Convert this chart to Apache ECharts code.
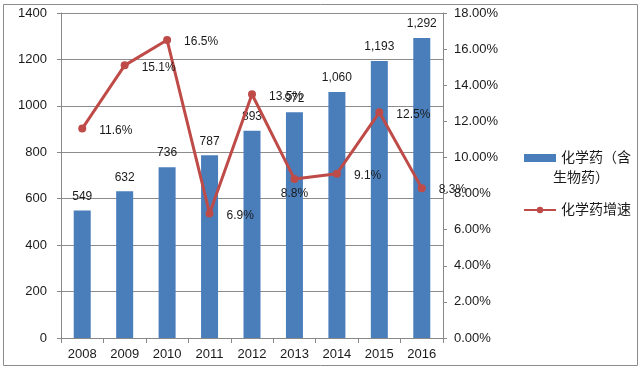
<!DOCTYPE html>
<html><head><meta charset="utf-8">
<script src="https://cdn.jsdelivr.net/npm/echarts@6/dist/echarts.min.js"></script>
<style>html,body{margin:0;padding:0;background:#fff}#c{width:642px;height:371px}</style>
</head><body><div id="c"></div>
<script>
const categories = ['2008','2009','2010','2011','2012','2013','2014','2015','2016'];
const salesValues = [549, 632, 736, 787, 893, 972, 1060, 1193, 1292];
const growthValues = [11.6, 15.1, 16.5, 6.9, 13.5, 8.8, 9.1, 12.5, 8.3];
const growthLabelPos = ['right','right','right','right','right','bottom','right','right','right'];
const barName = '化学药（含生物药）';
const barNameLine1 = '化学药（含';
const barNameLine2 = '生物药）';
const lineName = '化学药增速';

const font = 'Arial, "Liberation Sans", "Noto Sans CJK SC", sans-serif';
const txt = '#1a1a1a';
const chart = echarts.init(document.getElementById('c'));
chart.setOption({
  animation: false,
  textStyle: { fontFamily: font },
  graphic: [
    { type: 'rect', shape: { x: 3.5, y: 4.5, width: 634, height: 361 }, style: { fill: 'none', stroke: '#8c8c8c', lineWidth: 1 } },
    { type: 'text', left: 553, top: 171, style: { text: barNameLine2, fontSize: 14, fill: txt, fontFamily: font } }
  ],
  grid: { left: 61, right: 199, top: 13, bottom: 33 },
  legend: {
    orient: 'vertical', left: 518, top: 145, itemGap: 36,
    itemWidth: 32, itemHeight: 8,
    textStyle: { fontSize: 14, color: txt, fontFamily: font, lineHeight: 16 },
    formatter: n => n === barName ? barNameLine1 : n,
    data: [{ name: barName, icon: 'rect' }, { name: lineName }]
  },
  xAxis: {
    type: 'category', data: categories,
    axisLine: { lineStyle: { color: '#888' } },
    axisTick: { show: true, lineStyle: { color: '#888' }, length: 5 },
    axisLabel: { color: txt, fontSize: 13, margin: 10 }
  },
  yAxis: [{
    type: 'value', min: 0, max: 1400, interval: 200,
    axisLine: { show: true, lineStyle: { color: '#888' } },
    axisTick: { show: true, lineStyle: { color: '#888' }, length: 4 },
    splitLine: { lineStyle: { color: '#8c8c8c' } },
    axisLabel: { color: txt, fontSize: 13, margin: 14, formatter: v => String(v) }
  }, {
    type: 'value', min: 0, max: 18, interval: 2,
    axisLine: { show: true, lineStyle: { color: '#888' } },
    axisTick: { show: true, lineStyle: { color: '#888' }, length: 4 },
    splitLine: { show: false },
    axisLabel: { color: txt, fontSize: 13, margin: 11, formatter: v => v.toFixed(2) + '%' }
  }],
  series: [{
    name: barName, type: 'bar', data: salesValues, barWidth: 17,
    itemStyle: { color: '#4a7ebb' },
    label: { show: true, position: 'top', distance: 8, color: txt, fontSize: 12,
      formatter: p => p.value.toLocaleString('en-US') }
  }, {
    name: lineName, type: 'line', yAxisIndex: 1,
    data: growthValues.map((v, i) => ({ value: v, label: { position: growthLabelPos[i], distance: growthLabelPos[i] === 'bottom' ? 3 : 13, offset: [0, 2] } })),
    symbol: 'circle', symbolSize: 8,
    lineStyle: { color: '#be4b48', width: 3 },
    itemStyle: { color: '#be4b48' },
    label: { show: true, color: txt, fontSize: 12, formatter: p => p.value.toFixed(1) + '%' },
    z: 5
  }]
});
</script></body></html>
